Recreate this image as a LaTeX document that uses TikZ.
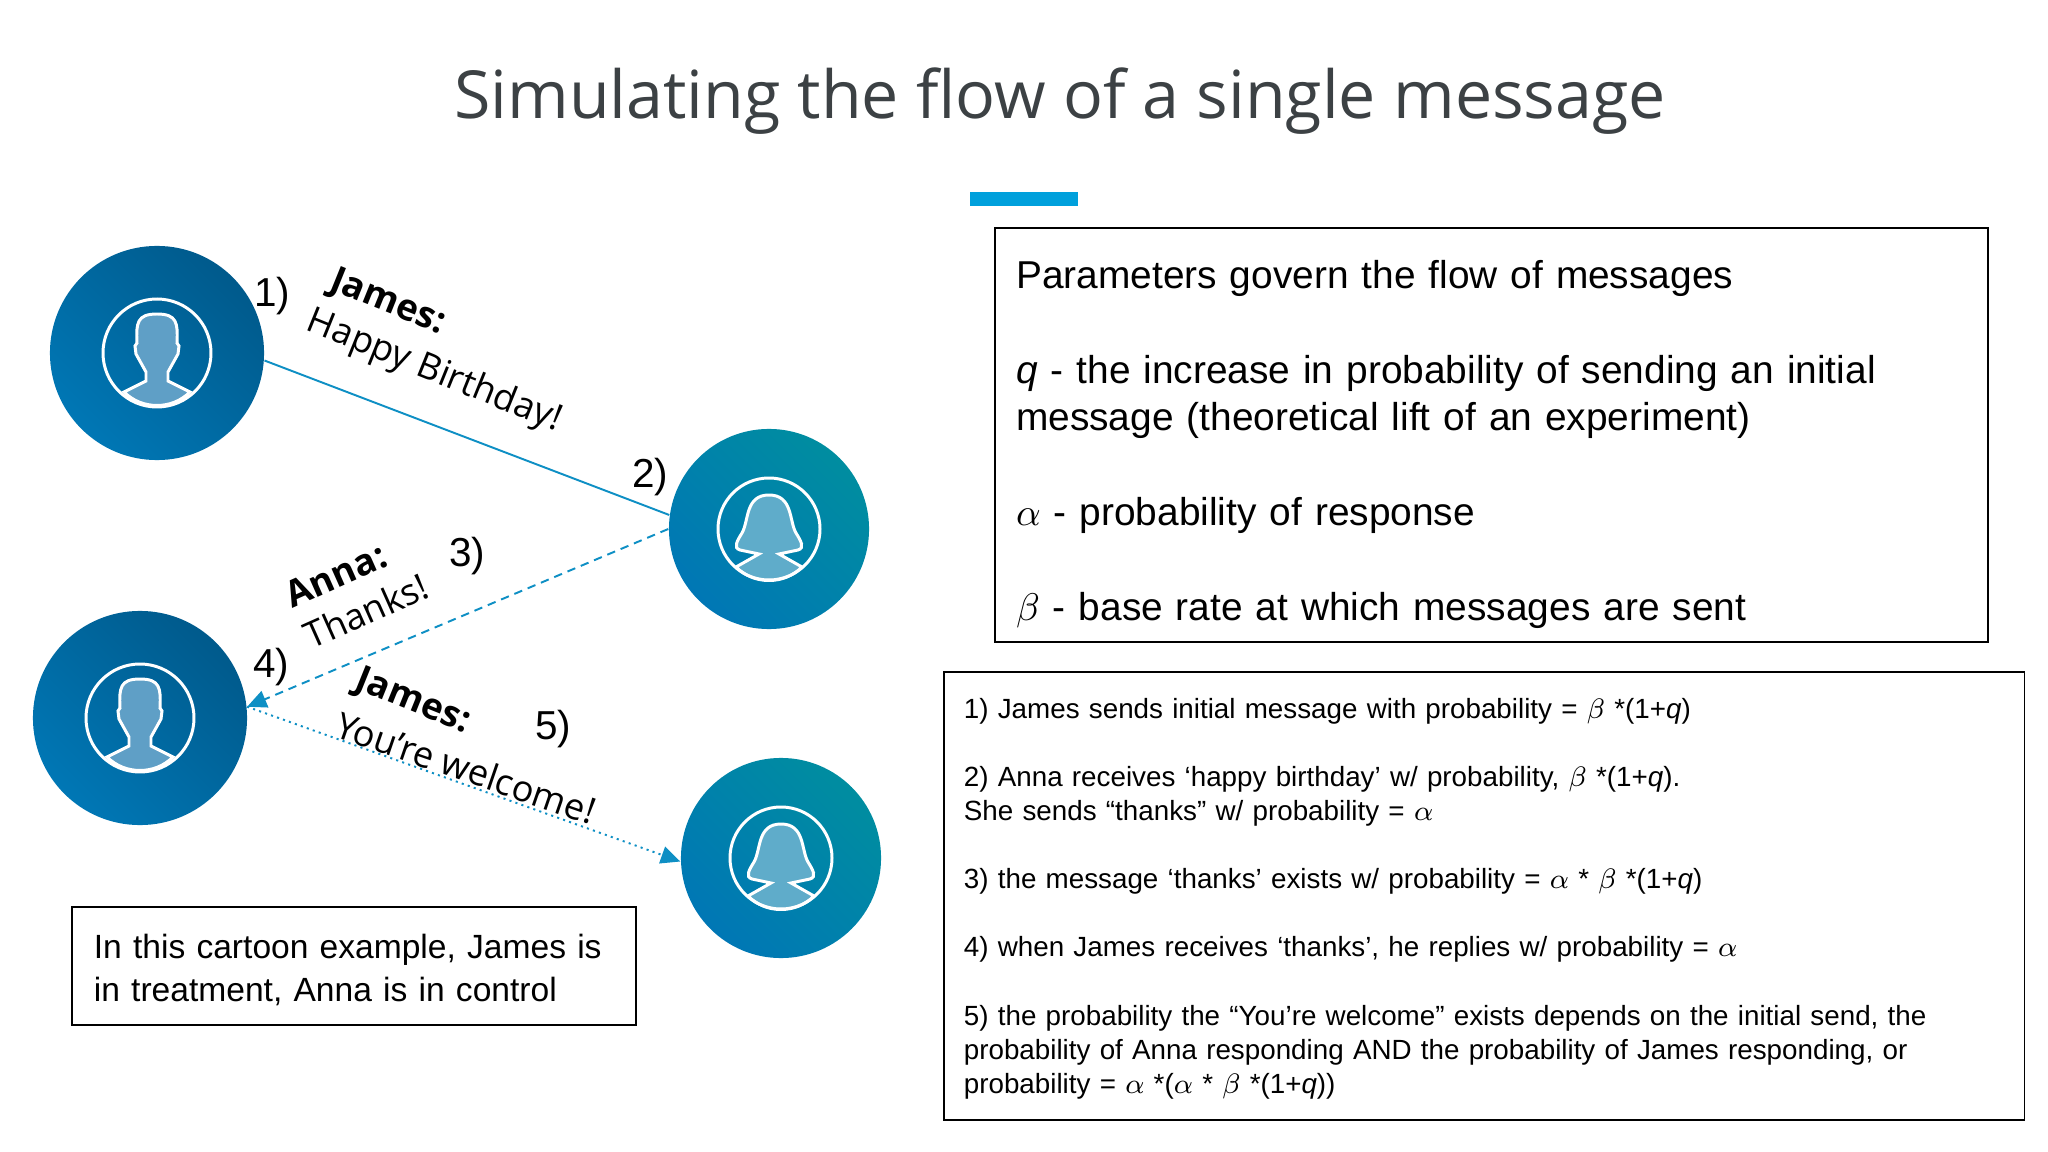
\documentclass[tikz,border=0pt]{standalone}
\usepackage{fontspec}
\setmainfont{Liberation Sans}
\newfontfamily\opensans{Open Sans}
\usetikzlibrary{arrows.meta}
\definecolor{linkblue}{HTML}{0E8FC4}
\definecolor{barblue}{HTML}{00A0DC}
\definecolor{ringblue}{HTML}{0077B5}
\definecolor{jamesdark}{HTML}{005A8C}
\definecolor{annateal}{HTML}{008DA0}
\definecolor{jamesfill}{HTML}{5F9FC6}
\definecolor{annafill}{HTML}{5FACCA}
\definecolor{titlegray}{HTML}{3C4144}
\tikzset{
  james/.style={circle,inner sep=0pt,minimum size=2.14cm,top color=jamesdark,bottom color=ringblue,shading angle=-45},
  anna/.style={circle,inner sep=0pt,minimum size=2cm,top color=annateal,bottom color=ringblue,shading angle=-45},
  outline/.style={draw=white,line width=0.85pt},
  msghead/.style={font=\opensans\bfseries\fontsize{10.4}{12}\selectfont},
  msgtext/.style={font=\opensans\fontsize{10.3}{12}\selectfont},
  stepnum/.style={font=\fontsize{11.5}{13}\selectfont},
  link/.style={linkblue,line width=0.55pt},
  textbox/.style={draw,line width=0.5pt,anchor=north west,align=left,inner ysep=0pt},
  man/.pic={
    \draw[outline,fill=jamesfill] (-33,39) -- (-11,28) -- (-11,19) -- (-21,1) -- (-22,-7) -- (-20,-10)
      .. controls (-21,-30) and (-20,-39) .. (0,-39) .. controls (20,-39) and (21,-30) .. (20,-10)
      -- (22,-7) -- (21,1) -- (11,19) -- (11,28) -- (33,39) .. controls (15,57) and (-15,57) .. cycle;
    \draw[outline] (0,0) circle [radius=54];
  },
  woman/.pic={
    \draw[outline,fill=annafill] (-33,38) -- (-10,25) -- (-29,21) .. controls (-36,19) and (-32,12) .. (-27,4)
      .. controls (-20,-8) and (-24,-34) .. (0,-34) .. controls (24,-34) and (20,-8) .. (27,4)
      .. controls (32,12) and (36,19) .. (29,21) -- (10,25) -- (33,38) .. controls (15,56) and (-15,56) .. cycle;
    \draw[outline] (0,0) circle [radius=51];
  },
}
\begin{document}
\begin{tikzpicture}[x=0.01cm,y=-0.01cm]
\useasboundingbox (0,0) rectangle (2048,1152);
\node (title) at (1060,101) [text=titlegray,font=\opensans\fontsize{18.85}{21}\selectfont] {Simulating the flow of a single message};
\fill[fill=barblue] (970,192) rectangle (1078,206);

% the four people
\node[james] (james1) at (157,353) {};
\node[anna] (anna1) at (769,529) {};
\node[james] (james2) at (140,718) {};
\node[anna] (anna2) at (781,858) {};
\pic at (james1) {man};
\pic at (anna1) {woman};
\pic at (james2) {man};
\pic at (anna2) {woman};

\draw[link] (james1.-4) -- (anna1.172);
\draw[link,dash pattern=on 2.4pt off 1.7pt,-{Triangle[length=5.5pt,width=5pt]}] (anna1.180) -- (james2.6);
\draw[link,dash pattern=on 0.6pt off 1.2pt,-{Triangle[length=5.5pt,width=5pt]}] (james2.6) -- (anna2.182);

\node[stepnum] (one) at (272,296) {1)};
\node[stepnum] (two) at (650,477) {2)};
\node[stepnum] (three) at (467,556) {3)};
\node[stepnum] (four) at (271,667) {4)};
\node[stepnum] (five) at (553,729) {5)};

\node[msghead,rotate=-22] (sender1) at (388,303) {James:};
\node[msgtext,rotate=-22] (msg1) at (434,372) {Happy Birthday!};
\node[msghead,rotate=24] (sender2) at (336,575) {Anna:};
\node[msgtext,rotate=24] (msg2) at (366,611) {Thanks!};
\node[msghead,rotate=-22] (sender3) at (413,702) {James:};
\node[msgtext,rotate=-19] (msg3) at (466,768) {You’re welcome!};

\node[textbox,minimum width=5.64cm,minimum height=1.18cm,inner xsep=0.19cm,font=\fontsize{9.55}{12.2}\selectfont,text width=5.2cm] (cartoon) at (71,906)
  {\rule{0pt}{9.4pt}In this cartoon example, James is\\in treatment, Anna is in control};

\node[textbox,minimum width=9.925cm,minimum height=4.14cm,inner xsep=0.185cm,font=\fontsize{11.05}{13.5}\selectfont,text width=9.5cm] (params) at (994,227)
  {\rule{0pt}{13.3pt}Parameters govern the flow of messages\\[13.5pt]
   \textit{q} - the increase in probability of sending an initial\\
   message (theoretical lift of an experiment)\\[13.5pt]
   $\alpha$ - probability of response\\[13.5pt]
   $\beta$ - base rate at which messages are sent};

\node[textbox,minimum width=10.8cm,minimum height=4.48cm,inner xsep=0.19cm,font=\fontsize{7.9}{9.7}\selectfont,text width=10.4cm] (steps) at (943,671)
  {\rule{0pt}{7.2pt}1) James sends initial message with probability = $\beta$ *(1+\textit{q})\\[9.7pt]
   2) Anna receives ‘happy birthday’ w/ probability, $\beta$ *(1+\textit{q}).\\
   She sends “thanks” w/ probability = $\alpha$\\[9.7pt]
   3) the message ‘thanks’ exists w/ probability = $\alpha$ * $\beta$ *(1+\textit{q})\\[9.7pt]
   4) when James receives ‘thanks’, he replies w/ probability = $\alpha$\\[9.7pt]
   5) the probability the “You’re welcome” exists depends on the initial send, the\\
   probability of Anna responding AND the probability of James responding, or\\
   probability = $\alpha$ *($\alpha$ * $\beta$ *(1+\textit{q}))};
\end{tikzpicture}
\end{document}
